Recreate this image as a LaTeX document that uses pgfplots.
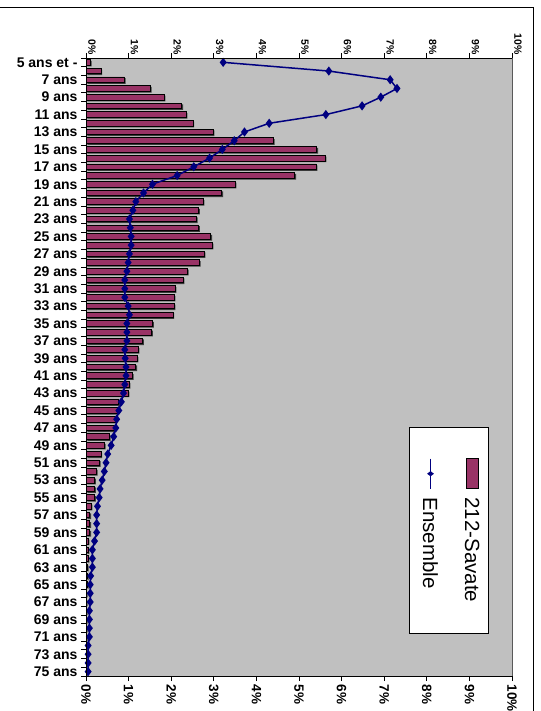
\documentclass[border=0pt]{standalone}
\usepackage{pgfplots}
\pgfplotsset{compat=1.18}
\usepackage{pgfplotstable}
\usepackage{fontspec}
\setmainfont{Liberation Sans}
\definecolor{savate}{RGB}{153,51,102}
\definecolor{navyline}{RGB}{0,0,128}
\definecolor{plotgray}{RGB}{192,192,192}

% idx 0 = "5 ans et -", idx k = (k+5) ans
\pgfplotstableread{
idx savate ensemble
0 0.10 3.22
1 0.35 5.70
2 0.90 7.14
3 1.51 7.30
4 1.83 6.92
5 2.25 6.48
6 2.35 5.63
7 2.51 4.30
8 2.98 3.72
9 4.40 3.48
10 5.42 3.20
11 5.61 2.90
12 5.40 2.53
13 4.90 2.14
14 3.50 1.56
15 3.19 1.35
16 2.75 1.17
17 2.64 1.10
18 2.59 1.02
19 2.64 1.04
20 2.93 1.06
21 2.96 1.06
22 2.77 1.02
23 2.66 0.99
24 2.38 0.96
25 2.28 0.91
26 2.09 0.91
27 2.07 0.91
28 2.07 0.99
29 2.04 1.02
30 1.56 0.96
31 1.54 0.96
32 1.33 0.96
33 1.22 0.91
34 1.20 0.92
35 1.17 0.94
36 1.09 0.94
37 1.01 0.91
38 0.99 0.88
39 0.77 0.83
40 0.74 0.77
41 0.70 0.72
42 0.66 0.70
43 0.55 0.65
44 0.43 0.59
45 0.35 0.51
46 0.31 0.47
47 0.24 0.43
48 0.20 0.38
49 0.20 0.33
50 0.20 0.31
51 0.12 0.27
52 0.09 0.25
53 0.09 0.25
54 0.09 0.25
55 0.05 0.20
56 0.05 0.15
57 0.05 0.15
58 0.03 0.15
59 0.03 0.11
60 0.03 0.10
61 0.02 0.10
62 0.02 0.10
63 0.02 0.08
64 0.02 0.08
65 0.02 0.08
66 0.02 0.08
67 0.02 0.05
68 0.02 0.05
69 0.02 0.05
70 0.02 0.05
}\agedata

\begin{document}
\begin{tikzpicture}
\useasboundingbox (0pt,0pt) rectangle (540pt,711pt);
\draw[line width=1pt] (0pt,703pt) -- (533pt,703pt) -- (533pt,0pt);

\begin{axis}[
  at={(86pt,35pt)}, anchor=south west,
  scale only axis, width=426pt, height=618pt,
  xmin=0, xmax=10, ymin=-0.5, ymax=70.5, y dir=reverse,
  axis background/.style={fill=plotgray},
  axis line style={draw=none},
  tick align=outside,
  major tick length=5pt, minor tick length=5pt,
  tick style={black, line width=0.8pt},
  xtick={0,1,...,10},
  xticklabels={0\%,1\%,2\%,3\%,4\%,5\%,6\%,7\%,8\%,9\%,10\%},
  xtick pos=both, xticklabel pos=left,
  x tick label style={rotate=-90, anchor=west, font=\bfseries\fontsize{13.5}{14}\selectfont},
  ytick={0,2,...,70},
  yticklabels={5 ans et -,7 ans,9 ans,11 ans,13 ans,15 ans,17 ans,19 ans,21 ans,23 ans,25 ans,27 ans,29 ans,31 ans,33 ans,35 ans,37 ans,39 ans,41 ans,43 ans,45 ans,47 ans,49 ans,51 ans,53 ans,55 ans,57 ans,59 ans,61 ans,63 ans,65 ans,67 ans,69 ans,71 ans,73 ans,75 ans},
  minor ytick={-0.5,0.5,...,70.5},
  ytick pos=left,
  major y tick style={draw=none},
  y tick label style={font=\bfseries\fontsize{14}{15}\selectfont},
  after end axis/.code={
    \draw[black, line width=0.8pt] (rel axis cs:1,0) -- (rel axis cs:0,0) -- (rel axis cs:0,1) -- (rel axis cs:1,1);
    \draw[gray!70!black, line width=0.8pt] (rel axis cs:1,0) -- (rel axis cs:1,1);
  },
]
\addplot[xbar, bar width=0.65, fill=gray!45!black, draw=none,
  xshift=1.3pt, yshift=-1.3pt] table[x=savate, y=idx] {\agedata};
\addplot[xbar, bar width=0.65, fill=savate, draw=black, line width=0.8pt]
  table[x=savate, y=idx] {\agedata};
\addplot[navyline, line width=1.5pt, mark=diamond*, mark size=3.4pt,
  mark options={fill=navyline, solid}]
  table[x=ensemble, y=idx] {\agedata};

% legend, turned a quarter clockwise as in the original
\node[rotate=-90, draw=black, fill=white, line width=0.8pt,
  minimum width=206pt, minimum height=79pt, inner sep=0pt,
  font=\fontsize{20.5}{22}\selectfont]
  at (axis description cs:0.851,0.236) {%
  \begin{tabular}{@{}l@{\hspace{8pt}}l@{}}
  \tikz[baseline=-7.4pt]\draw[fill=savate, draw=black, line width=0.8pt] (0pt,-6pt) rectangle (30pt,6pt); & 212-Savate\\[20pt]
  \tikz[baseline=-7.4pt]{\draw[navyline, line width=1.5pt] (0pt,0pt) -- (30pt,0pt);
    \fill[navyline] (15pt,3.4pt) -- (17.6pt,0pt) -- (15pt,-3.4pt) -- (12.4pt,0pt) -- cycle;} & Ensemble
  \end{tabular}\hspace{32pt}};
\end{axis}

\begin{axis}[
  at={(86pt,35pt)}, anchor=south west,
  scale only axis, width=426pt, height=618pt,
  xmin=0, xmax=10, ymin=-0.5, ymax=70.5, y dir=reverse,
  axis line style={draw=none},
  major tick length=0pt,
  xtick={0,1,...,10},
  xticklabels={0\%,1\%,2\%,3\%,4\%,5\%,6\%,7\%,8\%,9\%,10\%},
  xtick pos=right, xticklabel pos=right,
  x tick label style={rotate=-90, anchor=east, font=\bfseries\fontsize{10.5}{11}\selectfont},
  every x tick label/.append style={yshift=6pt},
  ytick=\empty,
]
\end{axis}
\end{tikzpicture}
\end{document}
